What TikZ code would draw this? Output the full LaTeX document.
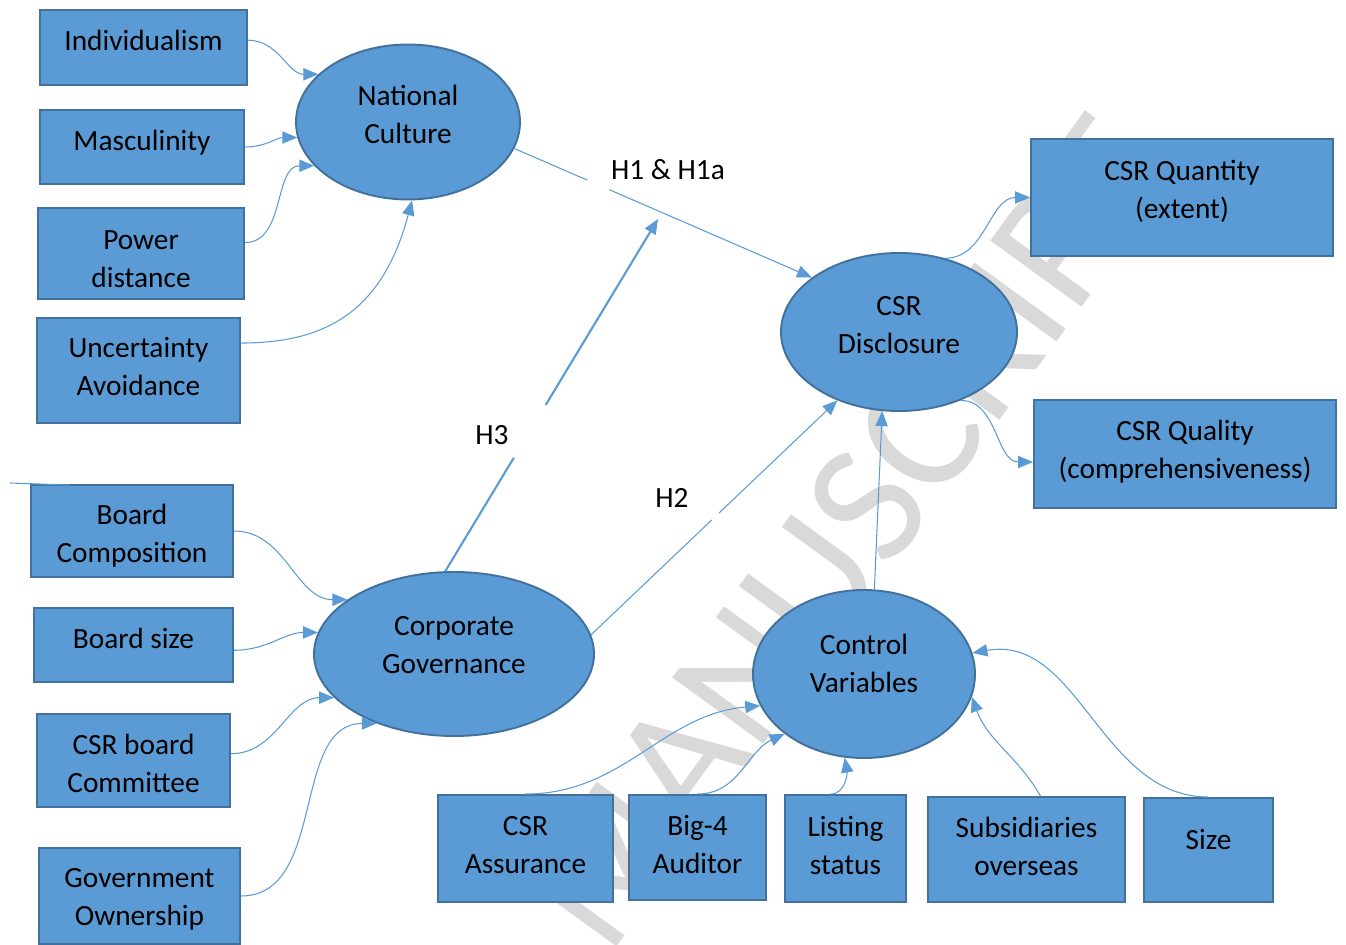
\documentclass[tikz,border=0pt]{standalone}
\usepackage{fontspec}
\setmainfont{Carlito}
\usetikzlibrary{shapes.geometric,arrows.meta,calc}
\definecolor{fillblue}{HTML}{5B9BD5}
\definecolor{edgeblue}{HTML}{41719C}
\definecolor{wmgray}{HTML}{D9D9D9}
\begin{document}
\begin{tikzpicture}[x=0.02cm,y=-0.02cm,
  txt/.style={font=\fontsize{16.7}{21.6}\selectfont},
  shp/.style={draw=edgeblue, line width=1.1pt, fill=fillblue, inner sep=0pt},
  tx/.style 2 args={label={[txt, align=center, inner sep=0pt, yshift=#1*0.02cm]center:{#2}}},
  rbox/.style 2 args={shp, rectangle, minimum width=#1*0.02cm, minimum height=#2*0.02cm},
  oval/.style 2 args={shp, ellipse, minimum width=#1*0.02cm, minimum height=#2*0.02cm},
  conn/.style={draw=fillblue, line width=0.6pt},
  arr/.style={conn, -{Triangle[length=8.5pt,width=7pt]}},
  lbl/.style={txt, inner sep=0pt},
  wm/.style={text=wmgray, font=\fontsize{100}{110}\selectfont, inner sep=0pt, rotate=54}
]
\useasboundingbox (0,0) rectangle (1346,945);

% watermark
\begin{scope}
\clip (0,0) rectangle (1346,945);
\node[wm, anchor=base] (wmb) at (893,567) {MANUSCRIPT};
\end{scope}

% left column
\node[rbox={207}{75}, tx={7}{Individualism}] (ind) at (143.5,47.5) {};
\node[rbox={204}{74}, tx={4}{Masculinity}] (mas) at (142,147) {};
\node[rbox={206}{91}, tx={-6}{Power\\distance}] (pow) at (141,253.5) {};
\node[rbox={203}{105}, tx={4}{Uncertainty\\Avoidance}] (unc) at (138.5,370.5) {};
\node[rbox={202}{92}, tx={-5}{Board\\Composition}] (bcomp) at (132,531) {};
\node[rbox={199}{74}, tx={7}{Board size}] (bsize) at (133.5,645) {};
\node[rbox={193}{93}, tx={-3}{CSR board\\Committee}] (csrc) at (133.5,760.5) {};
\node[rbox={201}{96}, tx={-3}{Government\\Ownership}] (gov) at (139.5,896) {};

% ellipses
\node[oval={224}{155}, tx={7.5}{National\\Culture}] (nc) at (408,122) {};
\node[oval={236}{158}, tx={7}{CSR\\Disclosure}] (csr) at (899,332) {};
\node[oval={280}{164}, tx={9}{Corporate\\Governance}] (cg) at (454,654) {};
\node[oval={222}{168}, tx={11}{Control\\Variables}] (cv) at (864,674) {};

% right boxes
\node[rbox={302}{117}, tx={6.5}{CSR Quantity\\(extent)}] (quant) at (1182,197.5) {};
\node[rbox={302}{108}, tx={2}{CSR Quality\\(comprehensiveness)}] (qual) at (1185,454) {};

% bottom boxes
\node[rbox={175}{107}, tx={3}{CSR\\Assurance}] (assur) at (525.5,848.5) {};
\node[rbox={137}{105}, tx={3}{Big-4\\Auditor}] (big4) at (697.5,847.5) {};
\node[rbox={121}{107}, tx={3}{Listing\\status}] (list) at (845.5,848.5) {};
\node[rbox={197}{105}, tx={3}{Subsidiaries\\overseas}] (subs) at (1026.5,849.5) {};
\node[rbox={129}{104}, tx={10}{Size}] (size) at (1208.5,850) {};

% culture dimensions
\draw[arr] (ind.4) to[out=0,in=180] (nc.152);
\draw[arr] (mas.east) to[out=0,in=180] (nc.188);
\draw[arr] (pow.6) to[out=0,in=180] (nc.205);
\draw[arr] (unc.15) to[out=0,in=-105,in looseness=1.3] (nc.273);

% governance
\coordinate (stray) at (10,483);
\draw[conn] (stray) -- ($(bcomp.north west)+(40,1)$);
\draw[arr] (bcomp.east) to[out=0,in=180] (cg.153);
\draw[arr] (bsize.357) to[out=0,in=180] (cg.171);
\draw[arr] (csrc.4) to[out=0,in=180] (cg.200);
\draw[arr] (gov.east) to[out=0,in=180] (cg.222);

% outcomes
\draw[arr] (csr.58) to[out=0,in=180] (quant.west);
\draw[arr] (csr.312) to[out=0,in=180] ([yshift=-0.16cm]qual.west);

% controls
\draw[arr] (assur.north) to[out=0,in=185] (cv.197);
\draw[arr] (big4.north) to[out=0,in=205] (cv.217);
\draw[arr] ([xshift=-0.3cm]list.north) to[out=0,in=-80] (cv.257);
\draw[arr] ([xshift=0.28cm]subs.north) to[out=120,in=-70] (cv.348);
\draw[arr] (size.north) to[out=180,in=10] (cv.11);
\draw[arr] (cv.83) -- (csr.258);

% hypotheses
\draw[conn] (nc.346) -- ($(nc.346)!0.245!(csr.148)$);
\draw[arr] ($(nc.346)!0.32!(csr.148)$) -- (csr.148);
\coordinate (h3tip) at (658,219);
\draw[conn, line width=1.2pt] (cg.96) -- ($(cg.96)!0.322!(h3tip)$);
\draw[arr, line width=1.2pt] ($(cg.96)!0.472!(h3tip)$) -- (h3tip);
\draw[conn] (cg.8) -- ($(cg.8)!0.49!(csr.228)$);
\draw[arr] ($(cg.8)!0.52!(csr.228)$) -- (csr.228);

\node[lbl] (h1) at (668,170) {H1 \& H1a};
\node[lbl] (h3) at (492,435) {H3};
\node[lbl] (h2) at (672,498) {H2};
\end{tikzpicture}
\end{document}
